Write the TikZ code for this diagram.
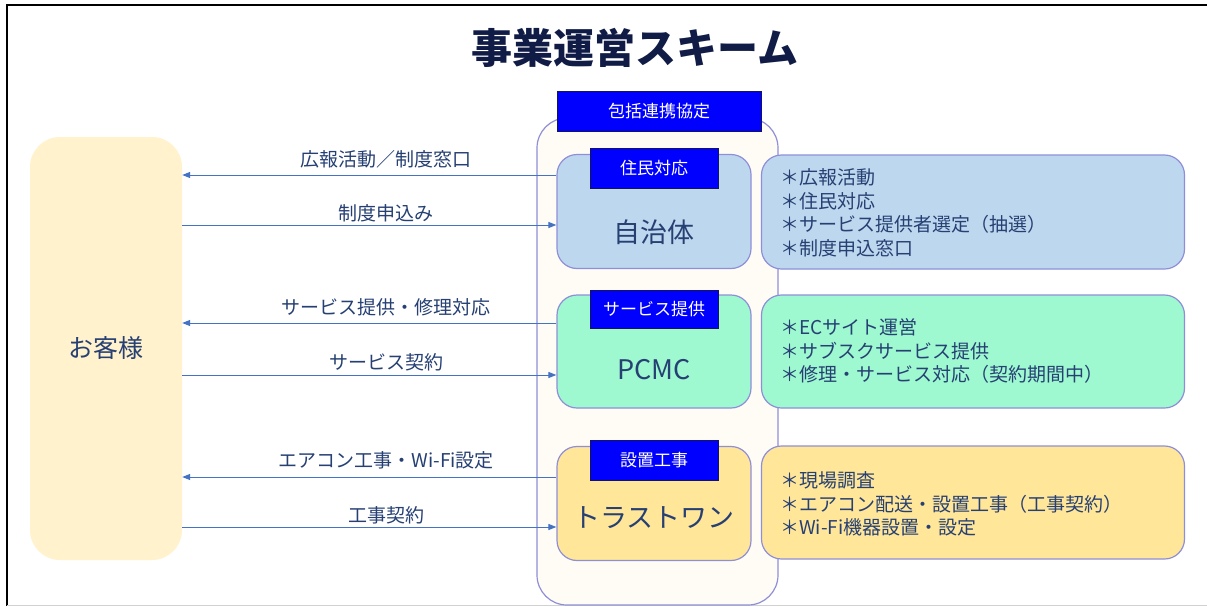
\documentclass[tikz,border=0pt]{standalone}
\usepackage{fontspec}
\usepackage{graphicx}
\setmainfont{Noto Sans CJK JP}
\usetikzlibrary{arrows.meta}
\definecolor{titlec}{RGB}{16,28,70}
\definecolor{txt}{RGB}{38,64,115}
\definecolor{bord}{RGB}{143,143,217}
\definecolor{tagblue}{RGB}{0,0,255}
\definecolor{tagbord}{RGB}{20,20,90}
\definecolor{cream}{RGB}{255,242,204}
\definecolor{contfill}{RGB}{255,252,245}
\definecolor{lblue}{RGB}{189,215,238}
\definecolor{mint}{RGB}{158,248,208}
\definecolor{yel}{RGB}{255,230,153}
\definecolor{arrc}{RGB}{68,114,196}
\begin{document}
\begin{tikzpicture}[x=1pt,y=-1pt,
  box/.style={draw=bord, line width=1.2pt, rounded corners=20pt, inner sep=0pt, minimum width=194pt},
  infobox/.style={draw=bord, line width=1.2pt, rounded corners=20pt, inner sep=0pt, minimum width=423pt},
  tag/.style={fill=tagblue, draw=tagbord, line width=0.8pt, text=white, inner sep=0pt, font=\fontsize{17}{17}\selectfont},
  maintxt/.style={text=txt, font=\fontsize{27}{27}\selectfont},
  infotxt/.style={text=txt, anchor=west, align=left, inner sep=0pt, font=\fontsize{19}{23.5}\selectfont},
  lab/.style={text=txt, font=\fontsize{19}{19}\selectfont, inner sep=0pt},
  arr/.style={draw=arrc, line width=1pt, -{Triangle[length=8pt,width=6pt]}}]
\useasboundingbox (0,0) rectangle (1207,606);
\fill[white] (0,0) rectangle (1207,606);
\draw[black, line width=2pt] (7,606) -- (7,5) -- (1207,5);
\draw[black!18, line width=1pt] (7,605) -- (1207,605);

\node[font=\fontsize{41}{41}\selectfont\bfseries, text=titlec] (title) at (635,48) {事業運営スキーム};

\node[fill=cream, rounded corners=30pt, inner sep=0pt, minimum width=152pt, minimum height=423pt,
      text=txt, font=\fontsize{25}{25}\selectfont] (kyaku) at (106,348.5) {お客様};

\node[draw=bord, fill=contfill, line width=1.2pt, rounded corners=30pt, inner sep=0pt,
      minimum width=241pt, minimum height=487pt] (cont) at (657.5,361.5) {};
\node[tag, minimum width=204pt, minimum height=40pt] (kyotei) at (659,111) {包括連携協定};

\node[box, fill=lblue, minimum height=114pt] (jichitai) at (654,211.5) {};
\node[tag, minimum width=128pt, minimum height=40pt] (tag1) at (654,168) {住民対応};
\node[maintxt] (jt) at (654,232) {自治体};

\node[box, fill=mint, minimum height=113pt] (pcmc) at (654,351.5) {};
\node[tag, minimum width=128pt, minimum height=38pt] (tag2) at (654,309) {サービス提供};
\node[maintxt] (pt) at (654,370) {PCMC};

\node[box, fill=yel, minimum height=114pt] (trust) at (654,503.5) {};
\node[tag, minimum width=128pt, minimum height=40pt] (tag3) at (654,460) {設置工事};
\node[maintxt] (tt) at (654,518) {トラストワン};

\node[infobox, fill=lblue, minimum height=114pt] (info1) at (973,212) {};
\node[infotxt] (i1) at (780,213) {＊広報活動\\＊住民対応\\＊サービス提供者選定（抽選）\\＊制度申込窓口};

\node[infobox, fill=mint, minimum height=113pt] (info2) at (973,351.5) {};
\node[infotxt] (i2) at (780,351) {＊ECサイト運営\\＊サブスクサービス提供\\＊修理・サービス対応（契約期間中）};

\node[infobox, fill=yel, minimum height=113pt] (info3) at (973,502.5) {};
\node[infotxt] (i3) at (780,504) {＊現場調査\\＊エアコン配送・設置工事（工事契約）\\＊Wi-Fi機器設置・設定};

\draw[arr] (jichitai.west |- 0,175) -- node[lab, pos=0.455, yshift=16pt] (l1) {広報活動／制度窓口} (kyaku.east |- 0,175);
\draw[arr] (kyaku.east |- 0,225) -- node[lab, pos=0.545, yshift=12pt] (l2) {制度申込み} (jichitai.west |- 0,225);
\draw[arr] (pcmc.west |- 0,323) -- node[lab, pos=0.455, yshift=16pt] (l3) {サービス提供・修理対応} (kyaku.east |- 0,323);
\draw[arr] (kyaku.east |- 0,375) -- node[lab, pos=0.545, yshift=13pt] (l4) {サービス契約} (pcmc.west |- 0,375);
\draw[arr] (trust.west |- 0,477) -- node[lab, pos=0.455, yshift=17pt] (l5) {エアコン工事・Wi-Fi設定} (kyaku.east |- 0,477);
\draw[arr] (kyaku.east |- 0,527) -- node[lab, pos=0.545, yshift=12pt] (l6) {工事契約} (trust.west |- 0,527);
\end{tikzpicture}
\end{document}
